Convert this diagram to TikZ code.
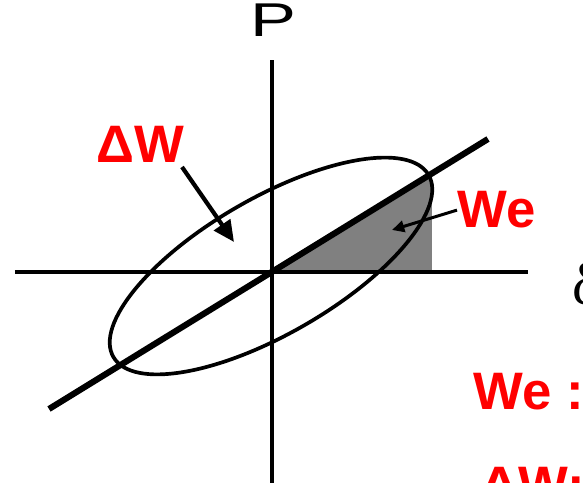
\documentclass[tikz,border=0pt]{standalone}
\usepackage{fontspec}
\setmainfont{Liberation Serif}
\setsansfont{Liberation Sans}
\usepackage{graphicx}
\usetikzlibrary{arrows.meta}

\begin{document}
\begin{tikzpicture}[x=0.02cm, y=0.02cm,
  axis/.style={line width=2pt},
  loop/.style={line width=2.1pt},
  stiff/.style={line width=3.5pt},
  redlbl/.style={anchor=base west, inner sep=0pt, text=red, font=\sffamily\bfseries\fontsize{30}{30}\selectfont},
  bigpointer/.style={line width=2.4pt, -{Triangle[length=12pt,width=11pt]}},
  smallpointer/.style={line width=1.7pt, -{Triangle[length=7pt,width=6.5pt]}}
]
\useasboundingbox (0,0) rectangle (583,483);
% axes
\coordinate (o)  at (272,211);
\coordinate (xl) at (15,211);
\coordinate (xr) at (528,211);
\coordinate (yt) at (272,423);
\coordinate (yb) at (272,-10);
% stiffness line and ellipse
\coordinate (sl) at (49,74);
\coordinate (sr) at (488,344);
\coordinate (c)  at (271,217);
\coordinate (gb) at (432,211);
\coordinate (gt) at (432,309.4);

\fill[gray] (o) -- (gb) -- (gt) -- cycle;
\draw[axis] (xl) -- (xr);
\draw[axis] (yb) -- (yt);
\draw[loop, rotate around={30:(c)}] (c) ellipse [x radius=182, y radius=68];
\draw[stiff] (sl) -- (sr);

\node[anchor=base, inner sep=0pt, font=\sffamily\fontsize{27}{27}\selectfont] (p) at (273,446) {\scalebox{1.45}[1]{P}};
\node[anchor=base west, inner sep=0pt, font=\fontsize{34}{34}\selectfont] (d) at (572,178) {δ};

\node[redlbl] (dw) at (96,320) {ΔW};
\node[redlbl] (we) at (457,255) {We};
\node[redlbl] (wenote) at (473,73) {We :};
\node[redlbl] (dwnote) at (480,-21) {ΔW:};

\coordinate (dwtail) at (182,316);
\coordinate (dwhead) at (234,241);
\coordinate (wehead) at (392,253);
\draw[bigpointer] (dwtail) -- (dwhead);
\draw[smallpointer] (we.west) -- (wehead);
\end{tikzpicture}
\end{document}
